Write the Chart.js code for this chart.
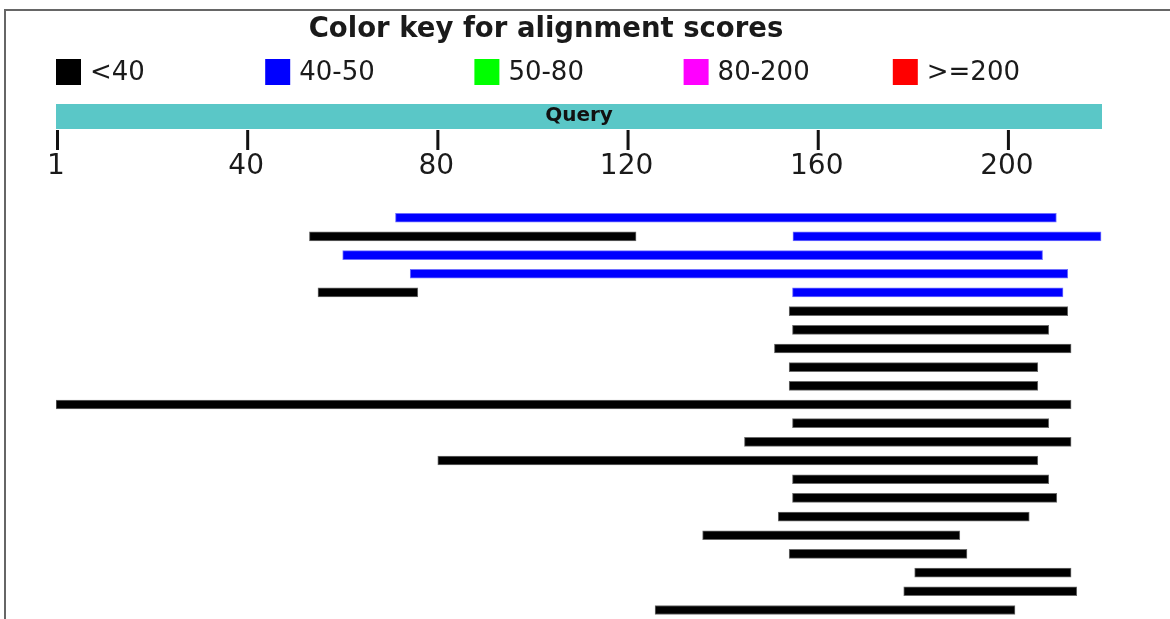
<!DOCTYPE html>
<html>
<head>
<meta charset="utf-8">
<script src="https://cdn.jsdelivr.net/npm/chart.js@4.4.1/dist/chart.umd.min.js"></script>
<style>
  html, body { margin: 0; padding: 0; background: #fff; overflow: hidden; }
  #wrap { position: relative; width: 1170px; height: 640px; }
  #frame { position: absolute; left: 4px; top: 9px; width: 1300px; height: 800px; border: 2px solid #666; pointer-events: none; }
</style>
</head>
<body>
<div id="wrap">
  <canvas id="alignChart"></canvas>
  <div id="frame"></div>
</div>
<script>
// query length and axis ticks
var queryLength = 220;
var tickValues = [0, 40, 80, 120, 160, 200];
var tickLabels = ['1', '40', '80', '120', '160', '200'];

// colour key
var keyLabels = ['<40', '40-50', '50-80', '80-200', '>=200'];
var keyColors = ['#000000', '#0000ff', '#00ff00', '#ff00ff', '#ff0000'];
var edgeColors = ['#6a6a6a', '#7070ff', '#70ff70', '#ff70ff', '#ff7070'];

// hits, top to bottom
var hitNames = ['hit 1', 'hit 2', 'hit 3', 'hit 4', 'hit 5', 'hit 6', 'hit 7', 'hit 8', 'hit 9', 'hit 10', 'hit 11',
    'hit 12', 'hit 13', 'hit 14', 'hit 15', 'hit 16', 'hit 17', 'hit 18', 'hit 19', 'hit 20', 'hit 21', 'hit 22'];
// first HSP of each hit [start, end]
var hitRanges = [[71.4, 210.4], [53.3, 122], [60.3, 207.5], [74.5, 212.8], [55.1, 76.1], [154.2, 212.8],
    [154.9, 208.8], [151.1, 213.5], [154.2, 206.5], [154.2, 206.5], [0, 213.5], [154.9, 208.8], [144.8, 213.5],
    [80.3, 206.5], [154.9, 208.8], [154.9, 210.5], [151.9, 204.7], [136, 190.1], [154.2, 191.6], [180.6, 213.5],
    [178.3, 214.7], [126, 201.7]];
// score class index into keyColors
var hitClasses = [1, 0, 1, 1, 0, 0, 0, 0, 0, 0, 0, 0, 0, 0, 0, 0, 0, 0, 0, 0, 0, 0];
// second HSP where there is one
var extraRanges = [null, [155, 219.8], null, null, [154.9, 211.8], null, null, null, null, null, null,
    null, null, null, null, null, null, null, null, null, null, null];
var extraClasses = [null, 1, null, null, 1, null, null, null, null, null, null,
    null, null, null, null, null, null, null, null, null, null, null];

function fillFor(c) { return c == null ? 'rgba(0,0,0,0)' : keyColors[c]; }
function edgeFor(c) { return c == null ? 'rgba(0,0,0,0)' : edgeColors[c]; }

var keyPlugin = {
    id: 'colorKey',
    afterDraw: function (chart) {
        var c = chart.ctx;
        var area = chart.chartArea;
        var x = chart.scales.x;
        c.save();

        // title
        c.fillStyle = '#1a1a1a';
        c.font = 'bold 27.5px "DejaVu Sans"';
        c.textAlign = 'center';
        c.textBaseline = 'middle';
        c.fillText('Color key for alignment scores', 546, 30);

        // key
        var col = area.width / keyLabels.length;
        c.font = '26px "DejaVu Sans"';
        c.textAlign = 'left';
        keyLabels.forEach(function (lab, i) {
            var lx = area.left + i * col;
            c.fillStyle = keyColors[i];
            c.fillRect(lx, 59, 25, 26);
            c.fillStyle = '#1a1a1a';
            c.fillText(lab, lx + 34, 73);
        });

        // query bar
        var qx0 = x.getPixelForValue(0);
        var qx1 = x.getPixelForValue(queryLength);
        c.fillStyle = '#5ac7c7';
        c.fillRect(qx0, 104, qx1 - qx0, 25);
        c.fillStyle = '#111';
        c.font = 'bold 20px "DejaVu Sans"';
        c.textAlign = 'center';
        c.fillText('Query', (qx0 + qx1) / 2, 116);

        // tick marks
        c.strokeStyle = '#111';
        c.lineWidth = 3;
        x.ticks.forEach(function (t) {
            var px = x.getPixelForValue(t.value) + 1.5;
            c.beginPath();
            c.moveTo(px, 130);
            c.lineTo(px, 150);
            c.stroke();
        });
        c.restore();
    }
};

var ctx = document.getElementById('alignChart');
var myChart = new Chart(ctx, {
    type: 'bar',
    data: {
        labels: hitNames,
        datasets: [{
                label: 'HSP',
                data: hitRanges,
                backgroundColor: hitClasses.map(fillFor),
                borderColor: hitClasses.map(edgeFor),
                borderWidth: 1,
                borderSkipped: false,
                barThickness: 9,
                grouped: false
            },
            {
                label: 'HSP 2',
                data: extraRanges,
                backgroundColor: extraClasses.map(fillFor),
                borderColor: extraClasses.map(edgeFor),
                borderWidth: 1,
                borderSkipped: false,
                barThickness: 9,
                grouped: false
            }
        ]
    },
    options: {
        indexAxis: 'y',
        responsive: true,
        maintainAspectRatio: false,
        animation: false,
        layout: {
            padding: { left: 56, right: 68, top: 108.4, bottom: 20.7 }
        },
        plugins: {
            legend: { display: false },
            title: { display: false },
            tooltip: { enabled: false }
        },
        scales: {
            x: {
                type: 'linear',
                position: 'top',
                min: 0,
                max: queryLength,
                afterBuildTicks: function (s) {
                    s.ticks = tickValues.map(function (v) { return { value: v }; });
                },
                afterFit: function (s) { s.height = 100; },
                grid: { display: false, drawTicks: false },
                border: { display: false },
                ticks: {
                    padding: 25,
                    color: '#1a1a1a',
                    maxRotation: 0,
                    autoSkip: false,
                    font: { family: 'DejaVu Sans', size: 28 },
                    callback: function (v, i) { return tickLabels[i]; }
                }
            },
            y: {
                type: 'category',
                display: false
            }
        }
    },
    plugins: [keyPlugin]
});
</script>
</body>
</html>
